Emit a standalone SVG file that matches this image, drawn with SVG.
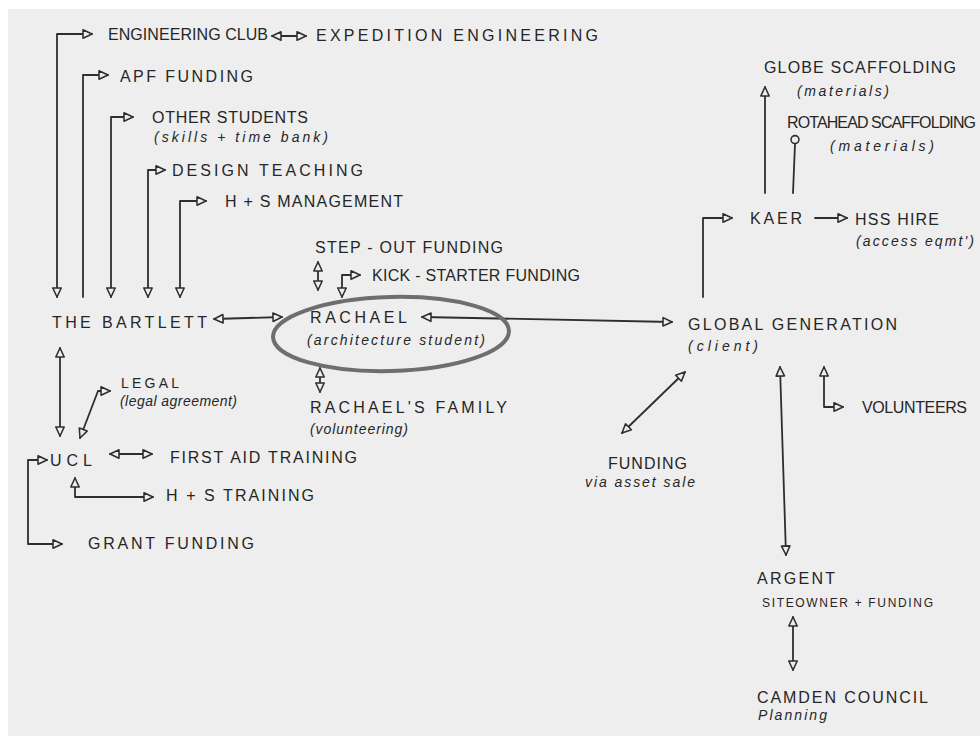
<svg xmlns="http://www.w3.org/2000/svg" width="980" height="736" viewBox="0 0 980 736">
<style>
.t{font-family:"Liberation Sans","DejaVu Sans",sans-serif;font-size:16px;fill:#262626}
.s{font-family:"Liberation Sans","DejaVu Sans",sans-serif;font-size:14px;font-style:italic;fill:#262626}
.m{font-family:"Liberation Sans","DejaVu Sans",sans-serif;font-size:12px;fill:#262626}
.l{font-family:"Liberation Sans","DejaVu Sans",sans-serif;font-size:14px;fill:#262626}
.c{fill:none;stroke:#2e2e2e;stroke-width:1.8;stroke-linejoin:round;stroke-linecap:round}
.ab{marker-start:url(#tri);marker-end:url(#tri)}
.ae{marker-end:url(#tri)}
</style>
<defs>
<marker id="tri" viewBox="0 0 10 10" refX="9" refY="5" markerWidth="12" markerHeight="12" markerUnits="userSpaceOnUse" orient="auto-start-reverse">
<path d="M1.5,1.5 L9,5 L1.5,8.5 Z" fill="#eeeeee" stroke="#2e2e2e" stroke-width="1.3" stroke-linejoin="round"/>
</marker>
<marker id="dot" viewBox="0 0 10 10" refX="5" refY="9" markerWidth="11" markerHeight="11" markerUnits="userSpaceOnUse" orient="0">
<circle cx="5" cy="5" r="3.6" fill="#eeeeee" stroke="#2e2e2e" stroke-width="1.4"/>
</marker>
</defs>
<rect x="0" y="0" width="980" height="736" fill="#ffffff"/>
<rect x="8" y="9" width="972" height="727" fill="#eeeeee"/>

<g id="connectors">
<path class="c ab" d="M57,297 L57,34 L92,34"/>
<path class="c ae" d="M83,297 L83,75 L108,75"/>
<path class="c ab" d="M111,297 L111,117 L133,117"/>
<path class="c ab" d="M148,297 L148,170 L165,170"/>
<path class="c ab" d="M180,297 L180,201 L206,201"/>
<path class="c ab" d="M272,36 L306,36"/>
<path class="c ab" d="M318,262 L318,290"/>
<path class="c ab" d="M342,297 L342,275 L360,275"/>
<path class="c ab" d="M214,319 L282,317"/>
<path class="c ab" d="M422,317 L672,322"/>
<path class="c ab" d="M320,368 L320,392"/>
<path class="c ab" d="M60,348 L60,436"/>
<path class="c ab" d="M80,438 L98,391 L110,391"/>
<path class="c ab" d="M110,454 L152,454"/>
<path class="c ab" d="M75,478 L75,497 L153,497"/>
<path class="c ab" d="M47,460 L28,460 L28,544 L62,544"/>
<path class="c ae" d="M703,297 L703,218 L732,218"/>
<path class="c ae" d="M815,218 L847,218"/>
<path class="c ae" d="M765,193 L765,87"/>
<path class="c" d="M793,193 L795,144" style="marker-end:url(#dot)"/>
<path class="c ab" d="M622,433 L685,372"/>
<path class="c ab" d="M780,367 L786,555"/>
<path class="c ab" d="M824,367 L824,407 L843,407"/>
<path class="c ab" d="M793,617 L793,670"/>
</g>

<g id="engineering-club"><text class="t" x="108" y="40" textLength="160">ENGINEERING CLUB</text></g>
<g id="expedition-engineering"><text class="t" x="316" y="41" textLength="282">EXPEDITION ENGINEERING</text></g>
<g id="apf-funding"><text class="t" x="120" y="82" textLength="133">APF FUNDING</text></g>
<g id="other-students"><text class="t" x="152" y="123" textLength="156">OTHER STUDENTS</text><text class="s" x="154" y="142" textLength="174">(skills + time bank)</text></g>
<g id="design-teaching"><text class="t" x="172" y="176" textLength="191">DESIGN TEACHING</text></g>
<g id="hs-management"><text class="t" x="225" y="207" textLength="178">H + S MANAGEMENT</text></g>
<g id="step-out-funding"><text class="t" x="315" y="253" textLength="188">STEP - OUT FUNDING</text></g>
<g id="kick-starter-funding"><text class="t" x="372" y="281" textLength="208">KICK - STARTER FUNDING</text></g>
<g id="the-bartlett"><text class="t" x="52" y="328" textLength="155">THE BARTLETT</text></g>
<g id="rachael">
<ellipse cx="391" cy="334" rx="118" ry="37" fill="none" stroke="#6e6e6e" stroke-width="4" transform="rotate(-1.5 391 334)"/>
<text class="t" x="310" y="323" textLength="97">RACHAEL</text>
<text class="s" x="307" y="345" textLength="178">(architecture student)</text>
</g>
<g id="rachaels-family"><text class="t" x="310" y="413" textLength="197">RACHAEL'S FAMILY</text><text class="s" x="310" y="434" textLength="98">(volunteering)</text></g>
<g id="legal"><text class="l" x="121" y="388" textLength="58">LEGAL</text><text class="s" x="120" y="406" textLength="117">(legal agreement)</text></g>
<g id="ucl"><text class="t" x="50" y="466" textLength="42">UCL</text></g>
<g id="first-aid-training"><text class="t" x="170" y="463" textLength="187">FIRST AID TRAINING</text></g>
<g id="hs-training"><text class="t" x="166" y="501" textLength="148">H + S TRAINING</text></g>
<g id="grant-funding"><text class="t" x="88" y="549" textLength="166">GRANT FUNDING</text></g>
<g id="global-generation"><text class="t" x="688" y="330" textLength="209">GLOBAL GENERATION</text><text class="s" x="688" y="351" textLength="70">(client)</text></g>
<g id="kaer"><text class="t" x="750" y="224" textLength="52">KAER</text></g>
<g id="hss-hire"><text class="t" x="855" y="225" textLength="84">HSS HIRE</text><text class="s" x="856" y="246" textLength="118">(access eqmt')</text></g>
<g id="globe-scaffolding"><text class="t" x="764" y="73" textLength="192">GLOBE SCAFFOLDING</text><text class="s" x="797" y="96" textLength="92">(materials)</text></g>
<g id="rotahead-scaffolding"><text class="t" x="787" y="128" textLength="189">ROTAHEAD SCAFFOLDING</text><text class="s" x="830" y="151" textLength="104">(materials)</text></g>
<g id="funding-asset-sale"><text class="t" x="608" y="469" textLength="79">FUNDING</text><text class="s" x="585" y="487" textLength="110">via asset sale</text></g>
<g id="volunteers"><text class="t" x="862" y="413" textLength="105">VOLUNTEERS</text></g>
<g id="argent"><text class="t" x="757" y="584" textLength="78">ARGENT</text><text class="m" x="762" y="607" textLength="171">SITEOWNER + FUNDING</text></g>
<g id="camden-council"><text class="t" x="757" y="703" textLength="171">CAMDEN COUNCIL</text><text class="s" x="758" y="720" textLength="69">Planning</text></g>
</svg>
